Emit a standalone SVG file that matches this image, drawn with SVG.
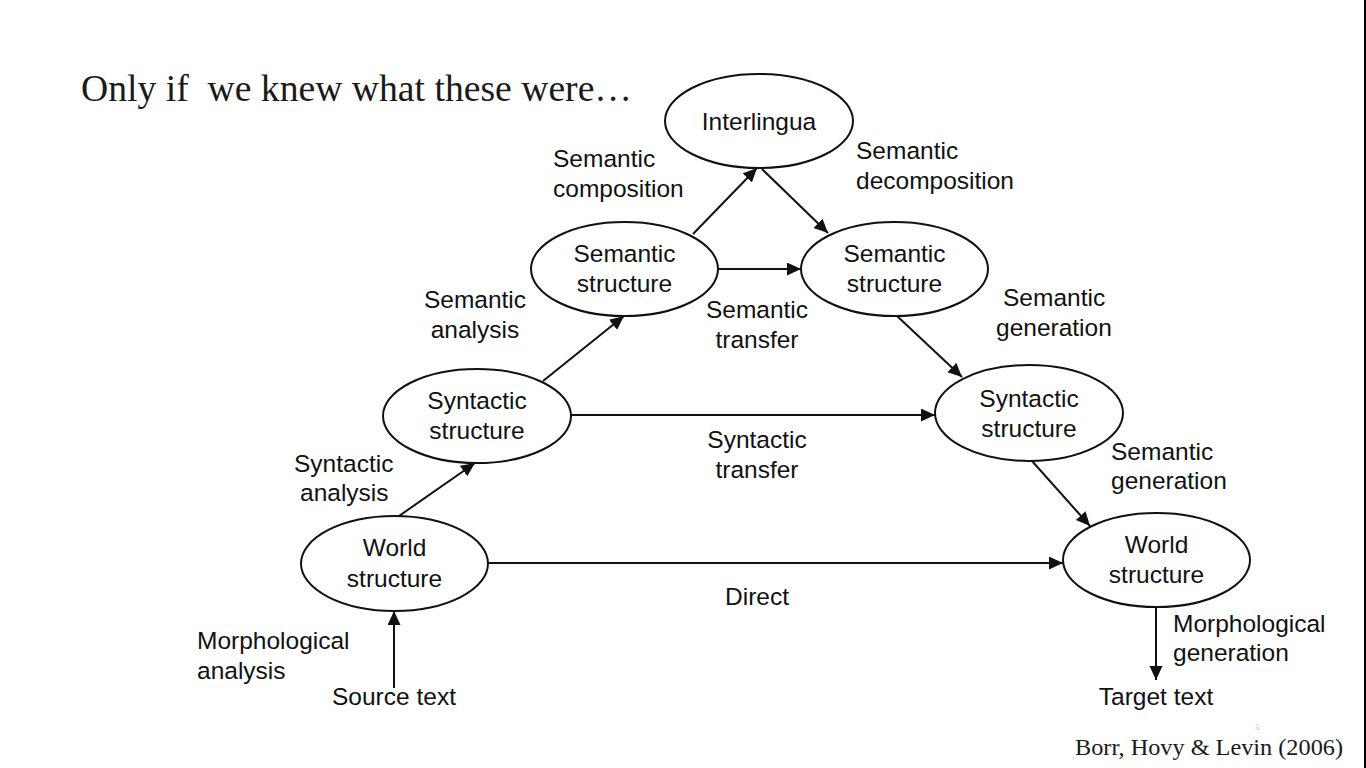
<svg xmlns="http://www.w3.org/2000/svg" width="1366" height="768" viewBox="0 0 1366 768">
<defs>
<style>
.node ellipse{fill:#fff;stroke:#111;stroke-width:2}
.lbl{font-family:"Liberation Sans",Arial,Helvetica,sans-serif;font-size:24.5px;fill:#111}
.c{text-anchor:middle}
.conn line{stroke:#111;stroke-width:2;marker-end:url(#ah)}
.serif{font-family:"Liberation Serif","Times New Roman",serif;fill:#1a1a1a}
</style>
<marker id="ah" markerUnits="userSpaceOnUse" markerWidth="16" markerHeight="14" refX="14" refY="6.5" orient="auto">
<path d="M0,0 L14,6.5 L0,13 z" fill="#111"/>
</marker>
</defs>
<rect width="1366" height="768" fill="#fff"/>
<rect x="1364" y="0" width="2" height="768" fill="#000"/>
<text class="serif" x="81" y="101" font-size="38" textLength="551" lengthAdjust="spacingAndGlyphs" xml:space="preserve">Only if  we knew what these were…</text>
<text class="serif" x="1075" y="755" font-size="23" textLength="268" lengthAdjust="spacingAndGlyphs">Borr, Hovy &amp; Levin (2006)</text>
<text x="1257" y="730" font-size="8" font-family="Liberation Serif,serif" fill="#bbb" text-anchor="middle">3</text>

<g id="connectors" class="conn">
<line x1="394" y1="688" x2="394" y2="611"/>
<line x1="399" y1="516" x2="475" y2="463"/>
<line x1="543" y1="381" x2="624" y2="316"/>
<line x1="693" y1="234" x2="757" y2="168"/>
<line x1="762" y1="169" x2="828" y2="233"/>
<line x1="718" y1="269" x2="801" y2="269"/>
<line x1="897" y1="316" x2="962" y2="377"/>
<line x1="571" y1="415" x2="935" y2="415"/>
<line x1="1032" y1="461" x2="1090" y2="526"/>
<line x1="488" y1="563" x2="1063" y2="563"/>
<line x1="1156" y1="607" x2="1156" y2="680"/>
</g>

<g id="interlingua" class="node">
<ellipse cx="759" cy="121" rx="94" ry="47"/>
<text class="lbl c" x="759" y="130">Interlingua</text>
</g>
<g id="sem-src" class="node">
<ellipse cx="624.5" cy="269" rx="93.5" ry="47"/>
<text class="lbl c" x="624.5" y="262">Semantic</text>
<text class="lbl c" x="624.5" y="292">structure</text>
</g>
<g id="sem-tgt" class="node">
<ellipse cx="894.5" cy="269" rx="93.5" ry="47"/>
<text class="lbl c" x="894.5" y="262">Semantic</text>
<text class="lbl c" x="894.5" y="292">structure</text>
</g>
<g id="syn-src" class="node">
<ellipse cx="477" cy="416" rx="94" ry="47"/>
<text class="lbl c" x="477" y="409">Syntactic</text>
<text class="lbl c" x="477" y="439">structure</text>
</g>
<g id="syn-tgt" class="node">
<ellipse cx="1029" cy="413" rx="94" ry="48"/>
<text class="lbl c" x="1029" y="407">Syntactic</text>
<text class="lbl c" x="1029" y="437">structure</text>
</g>
<g id="world-src" class="node">
<ellipse cx="394.5" cy="563.5" rx="93.5" ry="47.5"/>
<text class="lbl c" x="394.5" y="556">World</text>
<text class="lbl c" x="394.5" y="587">structure</text>
</g>
<g id="world-tgt" class="node">
<ellipse cx="1156.5" cy="560" rx="93.5" ry="47"/>
<text class="lbl c" x="1156.5" y="553">World</text>
<text class="lbl c" x="1156.5" y="583">structure</text>
</g>

<g id="labels">
<text class="lbl" x="553" y="167">Semantic</text>
<text class="lbl" x="553" y="197">composition</text>
<text class="lbl" x="856" y="159">Semantic</text>
<text class="lbl" x="856" y="189">decomposition</text>
<text class="lbl c" x="757" y="318">Semantic</text>
<text class="lbl c" x="757" y="348">transfer</text>
<text class="lbl c" x="475" y="308">Semantic</text>
<text class="lbl c" x="475" y="338">analysis</text>
<text class="lbl" x="1003" y="306">Semantic</text>
<text class="lbl" x="996" y="336">generation</text>
<text class="lbl" x="294" y="472">Syntactic</text>
<text class="lbl" x="300" y="501">analysis</text>
<text class="lbl c" x="757" y="448">Syntactic</text>
<text class="lbl c" x="757" y="478">transfer</text>
<text class="lbl c" x="757" y="605">Direct</text>
<text class="lbl" x="1111" y="460">Semantic</text>
<text class="lbl" x="1111" y="489">generation</text>
<text class="lbl" x="1173" y="632">Morphological</text>
<text class="lbl" x="1173" y="661">generation</text>
<text class="lbl c" x="1156" y="705">Target text</text>
<text class="lbl" x="197" y="649">Morphological</text>
<text class="lbl" x="197" y="679">analysis</text>
<text class="lbl c" x="394" y="705">Source text</text>
</g>
</svg>
